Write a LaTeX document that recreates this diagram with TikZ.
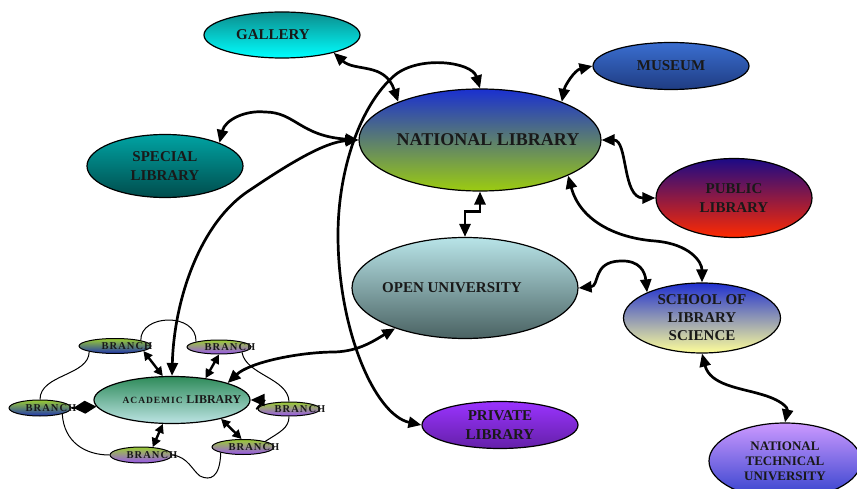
\documentclass[tikz,border=0pt]{standalone}
\usepackage{fontspec}
\setmainfont{Liberation Serif}
\newfontfamily\spacedfont[LetterSpace=10]{Liberation Serif}
\usetikzlibrary{arrows.meta,shapes.geometric}
\definecolor{galT}{HTML}{0C8C8C}
\definecolor{galB}{HTML}{00FFFF}
\definecolor{musT}{HTML}{3A6ED0}
\definecolor{musB}{HTML}{1F3C82}
\definecolor{natT}{HTML}{1A30D0}
\definecolor{natB}{HTML}{9CCC10}
\definecolor{speT}{HTML}{00A3A3}
\definecolor{speB}{HTML}{004C4C}
\definecolor{pubT}{HTML}{1C0A86}
\definecolor{pubM}{HTML}{8A0A78}
\definecolor{pubB}{HTML}{FF2A00}
\definecolor{opnT}{HTML}{B8E4E8}
\definecolor{opnB}{HTML}{4A6262}
\definecolor{schT}{HTML}{2030D0}
\definecolor{schB}{HTML}{FFFF99}
\definecolor{ntuT}{HTML}{CC99FF}
\definecolor{ntuB}{HTML}{3040CC}
\definecolor{priT}{HTML}{9A33FF}
\definecolor{priB}{HTML}{6420A8}
\definecolor{acaT}{HTML}{2E8B5A}
\definecolor{acaB}{HTML}{BDE4E4}
\definecolor{brT}{HTML}{9ACD32}
\definecolor{brBl}{HTML}{2035B0}
\definecolor{brPu}{HTML}{9955EE}
\tikzset{
  bub/.style={ellipse, draw=black, line width=1.2pt, inner xsep=-150pt, inner ysep=-80pt, align=center,
    text=black!90, font=\bfseries\fontsize{15}{19}\selectfont},
  brnode/.style={bub, line width=1pt, font=\spacedfont\bfseries\fontsize{10.5}{12}\selectfont},
  link/.style={line width=2.7pt, <->},
  blink/.style={line width=2.4pt, {Triangle[length=9pt,width=9pt]}-{Triangle[length=9pt,width=9pt]}},
  ring/.style={line width=1pt},
  >={Triangle[length=13pt,width=11pt]}
}
\begin{document}
\begin{tikzpicture}[x=1pt,y=-1pt]
\useasboundingbox (0,0) rectangle (857,489);
% main nodes
\node[bub, minimum width=156pt, minimum height=46pt, top color=galT, bottom color=galB] (gal) at (282,35) {GALLERY\hspace*{18pt}};
\node[bub, minimum width=156pt, minimum height=47pt, top color=musT, bottom color=musB] (mus) at (671,66) {MUSEUM};
\node[bub, minimum width=242pt, minimum height=102pt, top color=natT, bottom color=natB, font=\bfseries\fontsize{18}{22}\selectfont] (nat) at (480,140) {\hspace*{16pt}NATIONAL LIBRARY};
\node[bub, minimum width=156pt, minimum height=63pt, top color=speT, bottom color=speB] (spe) at (165,166) {SPECIAL\\LIBRARY};
\node[bub, minimum width=156pt, minimum height=79pt, top color=pubT, middle color=pubM, bottom color=pubB] (pub) at (734,198) {PUBLIC\\LIBRARY};
\node[bub, minimum width=226pt, minimum height=101pt, top color=opnT, bottom color=opnB] (opn) at (465,288) {OPEN UNIVERSITY\hspace*{26pt}};
\node[bub, minimum width=157pt, minimum height=70pt, top color=schT, bottom color=schB, font=\bfseries\fontsize{15}{18}\selectfont] (sch) at (702,318) {SCHOOL OF\\LIBRARY\\SCIENCE};
\node[bub, minimum width=152pt, minimum height=76pt, top color=ntuT, bottom color=ntuB, font=\bfseries\fontsize{13}{15}\selectfont] (ntu) at (785,461) {NATIONAL\\TECHNICAL\\UNIVERSITY};
\node[bub, minimum width=156pt, minimum height=47pt, top color=priT, bottom color=priB] (pri) at (500,425) {PRIVATE\\LIBRARY};
\node[bub, minimum width=156pt, minimum height=47pt, top color=acaT, bottom color=acaB] (aca) at (172,400) {\hspace*{20pt}{\spacedfont\fontsize{9.5}{12}\selectfont ACADEMIC} {\fontsize{12}{14}\selectfont LIBRARY}};
% branches
\node[brnode, minimum width=72pt, minimum height=15pt, top color=brT, bottom color=brBl] (b1) at (115,346) {\hspace*{24pt}BRANCH};
\node[brnode, minimum width=64pt, minimum height=14pt, top color=brT, bottom color=brPu] (b2) at (219,347) {\hspace*{22pt}BRANCH};
\node[brnode, minimum width=62pt, minimum height=16pt, top color=brT, bottom color=brBl] (b3) at (40,408) {\hspace*{22pt}BRANCH};
\node[brnode, minimum width=62pt, minimum height=14pt, top color=brT, bottom color=brPu] (b4) at (289,409) {\hspace*{22pt}BRANCH};
\node[brnode, minimum width=62pt, minimum height=16pt, top color=brT, bottom color=brPu] (b5) at (141,455) {\hspace*{22pt}BRANCH};
\node[brnode, minimum width=62pt, minimum height=15pt, top color=brT, bottom color=brPu] (b6) at (243,447) {\hspace*{22pt}BRANCH};
% main connectors
\draw[link] (gal.341) .. controls (355,72) and (385,62) .. (nat.155);
\draw[link] (mus.west) .. controls (575,70) and (565,85) .. (nat.25);
\draw[link] (spe.23) .. controls (225,120) and (245,110) .. (265,112) .. controls (295,112) and (300,136) .. (nat.west);
\draw[link] (nat.east) .. controls (628,140) and (622,198) .. (pub.west);
\draw[link] (nat.338) .. controls (580,220) and (615,238) .. (655,241) .. controls (690,244) and (702,262) .. (sch.north);
\draw[link] (nat.south) -- ++(0,20) -| (opn.north);
\draw[link] (opn.east) .. controls (600,286) and (592,262) .. (620,261) .. controls (640,260) and (645,272) .. (sch.155);
\draw[link] (sch.south) .. controls (710,385) and (740,388) .. (760,394) .. controls (782,400) and (788,408) .. (ntu.north);
\draw[link] (nat.north) .. controls (472,62) and (420,55) .. (395,75) .. controls (360,105) and (338,170) .. (338,235) .. controls (338,330) and (375,415) .. (pri.west);
\draw[link] (aca.north) .. controls (174,300) and (200,222) .. (250,190) .. controls (290,163) and (325,142) .. (nat.west);
\draw[link] (aca.17) .. controls (250,362) and (300,352) .. (335,352) .. controls (360,351) and (375,340) .. (opn.210);
% branch connectors
\draw[blink] (b1.-10) -- (aca.111);
\draw[blink] (b2.south) -- (aca.33);
\draw[blink] (b5.34) -- (aca.249);
\draw[blink] (b6.100) -- (aca.339);
\draw[line width=2pt, -{Diamond[length=23pt,width=13pt]}] (b3.east) -- (aca.185);
\draw[line width=2pt, -{Triangle[length=14pt,width=12pt]}] (b4.west) .. controls +(-3,0) and +(16,0) .. (aca.east);
% ring
\draw[ring] (b1.north east) .. controls (140,314) and (197,312) .. (b2.north west);
\draw[ring] (b1.south west) .. controls (89,376) and (40,374) .. (b3.north);
\draw[ring] (b3.south east) .. controls (64,442) and (85,455) .. (b5.west);
\draw[ring] (b5.east) .. controls (188,457) and (192,470) .. (200,476) .. controls (210,481) and (220,478) .. (b6.south west);
\draw[ring] (b6.north east) .. controls (280,432) and (289,428) .. (b4.south);
\draw[ring] (b4.north) .. controls (288,378) and (246,375) .. (b2.south east);
\end{tikzpicture}
\end{document}
